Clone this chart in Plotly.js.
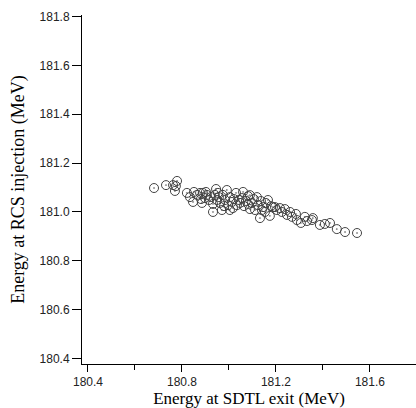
<!DOCTYPE html>
<html><head><meta charset="utf-8">
<script src="https://cdn.plot.ly/plotly-3.0.1.min.js"></script>
<style>html,body{margin:0;padding:0;background:#fff}#c{width:416px;height:408px}</style>
</head><body><div id="c"></div>
<script>
const sdtlExit = [180.681,180.732,180.762,180.779,180.770,180.774,180.821,180.834,180.851,180.847,180.864,180.877,180.889,180.885,180.898,180.906,180.915,180.923,180.932,180.945,180.940,180.949,180.957,180.962,180.970,180.974,180.983,180.991,180.996,181.004,181.004,181.013,181.021,181.030,181.034,181.043,181.047,181.055,181.064,181.072,181.081,181.089,181.089,181.098,181.106,181.111,181.119,181.123,181.132,181.136,181.145,181.153,181.157,181.166,181.174,181.179,181.187,181.196,181.204,181.217,181.225,181.238,181.247,181.260,181.285,181.289,181.306,181.323,181.332,181.353,181.357,181.387,181.408,181.430,181.459,181.494,181.545,180.902,180.953,180.979,181.017,181.060,181.081,180.932,180.881,181.140,181.268];
const rcsInjection = [181.098,181.110,181.110,181.127,181.086,181.106,181.078,181.061,181.082,181.041,181.070,181.078,181.078,181.037,181.057,181.070,181.049,181.061,181.000,181.094,181.070,181.049,181.061,181.037,181.008,181.070,181.049,181.090,181.028,181.008,181.061,181.041,181.053,181.078,181.028,181.049,181.037,181.057,181.024,181.045,181.065,181.069,181.012,181.037,181.053,181.008,181.061,181.028,180.975,181.045,181.020,181.000,181.037,181.049,180.984,181.024,181.020,181.020,181.008,181.016,181.000,181.012,180.988,181.000,180.992,180.967,180.955,180.980,180.963,180.967,180.975,180.947,180.951,180.955,180.930,180.918,180.914,181.082,181.078,181.024,181.016,181.082,181.033,181.033,181.053,181.008,180.980];
const xTitle = 'Energy at SDTL exit (MeV)';
const yTitle = 'Energy at RCS injection (MeV)';

const trace = {
  x: sdtlExit, y: rcsInjection, type: 'scatter', mode: 'markers',
  marker: {symbol: 'circle-open-dot', size: 9, color: '#444', line: {width: 1, color: '#444'}},
  hoverinfo: 'skip'
};
const layout = {
  width: 416, height: 408,
  margin: {l: 82, r: 0, t: 15, b: 44, pad: 0},
  paper_bgcolor: '#fff', plot_bgcolor: '#fff',
  showlegend: false,
  font: {family: 'Liberation Sans, Arial, sans-serif', size: 12, color: '#222'},
  xaxis: {
    range: [180.3745, 181.796], showgrid: false, zeroline: false,
    showline: true, linecolor: '#000', linewidth: 1,
    ticks: 'outside', ticklen: 7, tickcolor: '#000', tickwidth: 1,
    tick0: 180.4, dtick: 0.4, tickformat: '.1f',
    minor: {ticks: 'outside', dtick: 0.2, tick0: 180.4, ticklen: 5, tickcolor: '#000', showgrid: false},
    title: {text: xTitle, font: {family: 'Liberation Serif, Times New Roman, serif', size: 17, color: '#000'}, standoff: 0}
  },
  yaxis: {
    range: [180.378, 181.806], showgrid: false, zeroline: false,
    showline: true, linecolor: '#000', linewidth: 1,
    ticks: 'outside', ticklen: 9, tickcolor: '#000', tickwidth: 1,
    tick0: 180.4, dtick: 0.2, tickformat: '.1f',
    title: {text: yTitle, font: {family: 'Liberation Serif, Times New Roman, serif', size: 18, color: '#000'}, standoff: 10}
  }
};
Plotly.newPlot('c', [trace], layout, {staticPlot: true, displayModeBar: false});
</script></body></html>
